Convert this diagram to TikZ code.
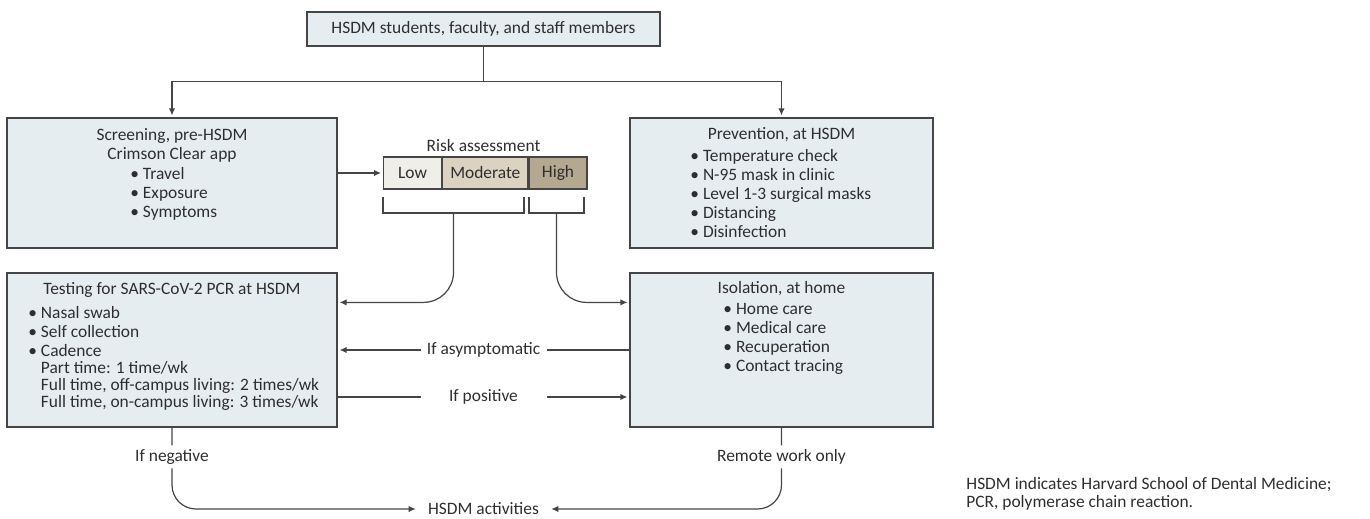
\documentclass[tikz,border=0pt]{standalone}
\usepackage{fontspec}
\setmainfont{Carlito}
\usetikzlibrary{positioning,arrows.meta}
\definecolor{boxfill}{HTML}{E6EDF1}
\definecolor{lowfill}{HTML}{EFEEE8}
\definecolor{modfill}{HTML}{DBD2C2}
\definecolor{highfill}{HTML}{B5A891}
\definecolor{linecol}{HTML}{454545}
\definecolor{txtcol}{HTML}{2E2E2E}

\begin{document}
\begin{tikzpicture}[x=0.5pt,y=-0.5pt,
  font=\fontsize{8.7}{9.5}\selectfont,text=txtcol,
  box/.style={draw=linecol,fill=boxfill,line width=0.6pt,inner sep=0pt},
  risk/.style={draw=linecol,line width=0.6pt,minimum height=16pt,inner sep=0pt,anchor=west},
  lbl/.style={fill=white,inner xsep=0pt,inner ysep=2pt,minimum width=63pt},
  ln/.style={draw=linecol,line width=0.6pt},
  arr/.style={ln,-{Latex[length=3.5pt,width=3.2pt]},shorten >=1pt}
]
\useasboundingbox (0,0) rectangle (1370,519);

% boxes
\node[box,minimum width=176.5pt,minimum height=17pt] (top) at (483.5,29) {HSDM students, faculty, and staff members};
\node[box,minimum width=165pt,minimum height=65pt] (screen) at (172,183) {};
\node[box,minimum width=151.5pt,minimum height=65pt] (prev) at (781.5,183) {};
\node[box,minimum width=165pt,minimum height=77pt] (test) at (172,350) {};
\node[box,minimum width=151.5pt,minimum height=77pt] (iso) at (781.5,350) {};

% box texts
\node[align=center] (screenhead) at (172,145) {Screening, pre-HSDM\\Crimson Clear app};
\node[align=left,anchor=west,inner sep=0pt] (screenlist) at (130,194) {\textbullet\ Travel\\\textbullet\ Exposure\\\textbullet\ Symptoms};
\node (prevhead) at (781.5,135) {Prevention, at HSDM};
\node[align=left,anchor=west,inner sep=0pt] (prevlist) at (690,194) {\textbullet\ Temperature check\\\textbullet\ N-95 mask in clinic\\\textbullet\ Level 1-3 surgical masks\\\textbullet\ Distancing\\\textbullet\ Disinfection};
\node (testhead) at (172,290) {Testing for SARS-CoV-2 PCR at HSDM};
\node[align=left,anchor=west,inner sep=0pt] (testlist) at (28,358) {\textbullet\ Nasal swab\\\textbullet\ Self collection\\\textbullet\ Cadence\\[-0.6pt]
  \phantom{\textbullet\ }Part time: 1 time/wk\\[-1.2pt]
  \phantom{\textbullet\ }Full time, off-campus living: 2 times/wk\\[-1.2pt]
  \phantom{\textbullet\ }Full time, on-campus living: 3 times/wk};
\node (isohead) at (781.5,289) {Isolation, at home};
\node[align=left,anchor=west,inner sep=0pt] (isolist) at (723,338.5) {\textbullet\ Home care\\\textbullet\ Medical care\\\textbullet\ Recuperation\\\textbullet\ Contact tracing};

% risk assessment
\node (riskhead) at (483.5,146) {Risk assessment};
\node[risk,fill=lowfill,minimum width=29pt] (low) at (383,173) {Low};
\node[risk,fill=modfill,minimum width=42.5pt,right=0pt of low] (mod) {Moderate};
\node[risk,fill=highfill,minimum width=29pt,right=0pt of mod] (high) {High};
\draw[ln] (383,197) |- (524,213) -- (524,197);
\draw[ln] (529,197) |- (584,213) -- (584,197);
\coordinate (lowbr) at (453.5,213);
\coordinate (highbr) at (556.5,213);

\node[inner xsep=5pt] (act) at (483.5,509) {HSDM activities};
\node[align=left,anchor=west,inner sep=0pt,font=\fontsize{8.7}{9}\selectfont] (note) at (966,494) {HSDM indicates Harvard School of Dental Medicine;\\PCR, polymerase chain reaction.};

% connectors
\draw[ln] (top.south) -- ++(0,35) coordinate (split);
\draw[arr] (split) -| (screen.north);
\draw[arr] (split) -| (prev.north);
\draw[arr] (screen.east |- low.west) -- (low.west);
\draw[arr,rounded corners=15pt] (lowbr) |- ([yshift=-15pt]test.north east);
\draw[arr,rounded corners=15pt] (highbr) |- ([yshift=-15pt]iso.north west);
\draw[arr] (iso.west) -- node[lbl] {If asymptomatic} (test.east);
\draw[arr] ([yshift=-23.5pt]test.east) -- node[lbl] {If positive} ([yshift=-23.5pt]iso.west);
\draw[arr,rounded corners=12pt] (test.south) |- node[lbl,pos=0.18,minimum width=0pt,inner xsep=3pt] {If negative} (act.west);
\draw[arr,rounded corners=12pt] (iso.south) |- node[lbl,pos=0.18,minimum width=0pt,inner xsep=3pt] {Remote work only} (act.east);
\end{tikzpicture}
\end{document}
